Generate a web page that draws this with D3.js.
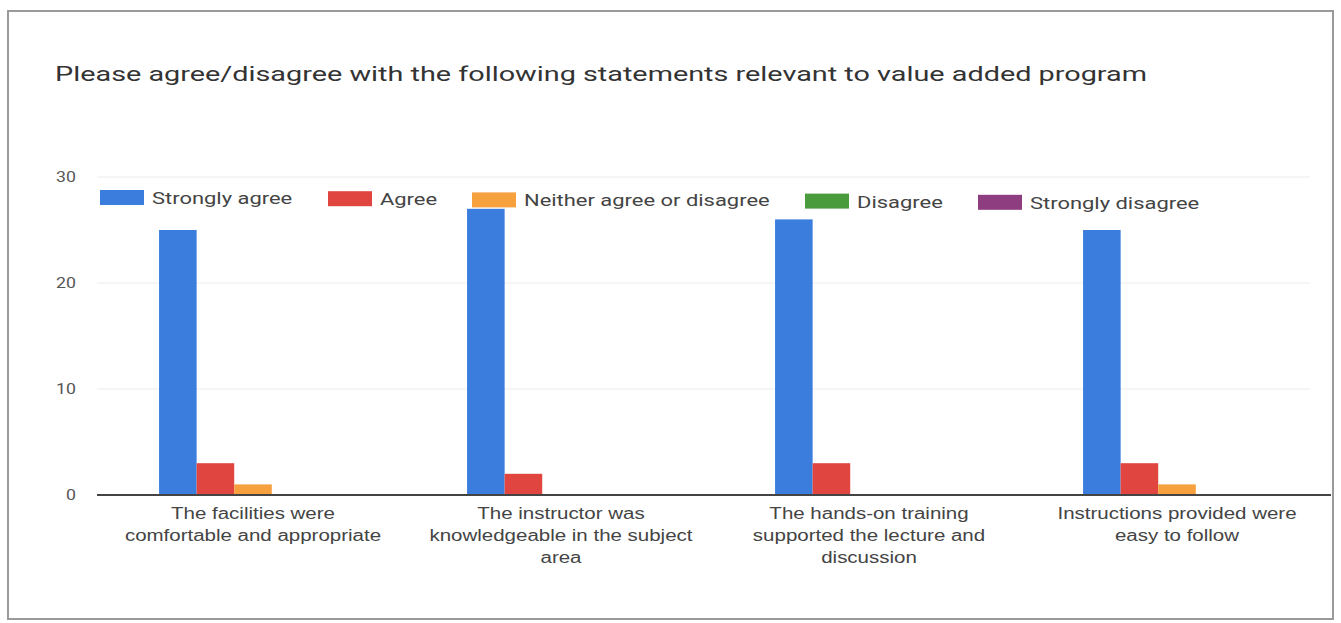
<!DOCTYPE html>
<html><head><meta charset="utf-8">
<script src="https://cdn.jsdelivr.net/npm/d3@7"></script>
<style>
html,body{margin:0;padding:0;background:#fff;}
svg{display:block;font-family:Roboto,"Liberation Sans",Arial,sans-serif;}
</style></head>
<body>
<svg id="chart" width="1341" height="623"></svg>
<script>
const title = "Please agree/disagree with the following statements relevant to value added program";
const categories = [
  ["The facilities were", "comfortable and appropriate"],
  ["The instructor was", "knowledgeable in the subject", "area"],
  ["The hands-on training", "supported the lecture and", "discussion"],
  ["Instructions provided were", "easy to follow"]
];
const seriesNames = ["Strongly agree", "Agree", "Neither agree or disagree", "Disagree", "Strongly disagree"];
const stronglyAgree = [25, 27, 26, 25];
const agree = [3, 2, 3, 3];
const neither = [1, 0, 0, 1];
const disagree = [0, 0, 0, 0];
const stronglyDisagree = [0, 0, 0, 0];
const yTicks = [0, 10, 20, 30];
const colors = ["#3b7ddd", "#e0453f", "#f7a03e", "#4a9b3c", "#8e3e80"];

const seriesValues = [stronglyAgree, agree, neither, disagree, stronglyDisagree];
const svg = d3.select("#chart");

function stretch(sel, k) {
  sel.each(function() {
    const n = this.getComputedTextLength();
    d3.select(this).attr("textLength", n * k).attr("lengthAdjust", "spacingAndGlyphs");
  });
}

// frame
svg.append("rect").attr("x", 8).attr("y", 11).attr("width", 1325).attr("height", 608)
  .attr("fill", "#fff").attr("stroke", "#9a9a9a").attr("stroke-width", 2);

const tt = svg.append("text").attr("x", 55).attr("y", 81).attr("font-size", 21)
  .attr("fill", "#333").text(title);
tt.attr("textLength", 1092).attr("lengthAdjust", "spacingAndGlyphs");

const x0 = d3.scaleBand().domain(d3.range(categories.length)).range([99, 1331]).paddingInner(0.39).paddingOuter(0.195);
const x1 = d3.scaleBand().domain(d3.range(seriesNames.length)).range([0, x0.bandwidth()]);
const y = d3.scaleLinear().domain([0, 30]).range([495, 177]);

// grid
svg.append("g").selectAll("line").data(yTicks.filter(t => t > 0)).join("line")
  .attr("x1", 97).attr("x2", 1310).attr("y1", d => y(d)).attr("y2", d => y(d))
  .attr("stroke", "#ececec").attr("stroke-width", 1);

// y axis labels
const yAxis = d3.axisLeft(y).tickValues(yTicks).tickSize(0).tickPadding(0);
const ga = svg.append("g").attr("transform", "translate(76,0)").call(yAxis);
ga.select(".domain").remove();
ga.selectAll("text").attr("font-size", 15).attr("fill", "#555").attr("font-family", "Roboto,sans-serif");
stretch(ga.selectAll("text"), 1.18);

// bars
const groups = svg.append("g").selectAll("g").data(categories).join("g")
  .attr("transform", (d, i) => `translate(${x0(i)},0)`);
groups.each(function(d, ci) {
  d3.select(this).selectAll("rect").data(seriesValues.map((s, si) => ({si, v: s[ci]}))).join("rect")
    .attr("x", e => x1(e.si)).attr("width", x1.bandwidth())
    .attr("y", e => y(e.v)).attr("height", e => y(0) - y(e.v))
    .attr("fill", e => colors[e.si]);
});

// baseline
svg.append("line").attr("x1", 97).attr("x2", 1331).attr("y1", y(0)).attr("y2", y(0))
  .attr("stroke", "#444").attr("stroke-width", 2);

// x labels
const xl = svg.append("g").selectAll("text").data(categories).join("text")
  .attr("x", (d, i) => x0(i) + x0.bandwidth() / 2).attr("y", 519)
  .attr("text-anchor", "middle").attr("font-size", 16).attr("fill", "#444")
  .attr("font-family", "'Liberation Sans',Arial,sans-serif");
xl.each(function(d) {
  const tx = d3.select(this).attr("x");
  d3.select(this).selectAll("tspan").data(d).join("tspan")
    .attr("x", tx).attr("dy", (t, j) => j === 0 ? 0 : 22).text(t => t);
});
stretch(xl.selectAll("tspan"), 1.28);

// legend
const legendX = [100, 328, 472, 805, 978];
const lg = svg.append("g").selectAll("g").data(seriesNames).join("g")
  .attr("transform", (d, i) => `translate(${legendX[i]},${198 + i * 1.2})`);
lg.append("rect").attr("x", 0).attr("y", -8).attr("width", 44).attr("height", 15)
  .attr("fill", (d, i) => colors[i]);
const lt = lg.append("text").attr("x", 52).attr("y", 6).attr("font-size", 17).attr("fill", "#444").text(d => d);
stretch(lt, 1.29);
</script>
</body></html>
